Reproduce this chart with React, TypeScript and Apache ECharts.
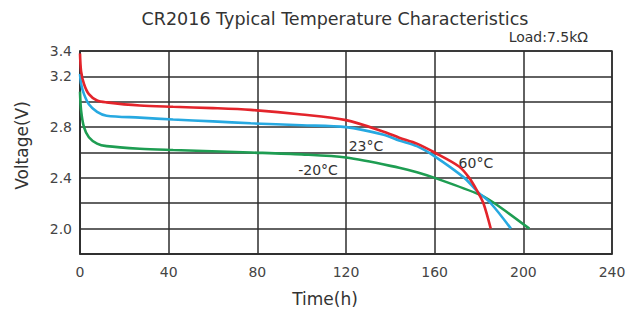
import React, { useEffect, useRef } from "react";
import * as echarts from "echarts";

const xTicks = [0, 40, 80, 120, 160, 200, 240];
const yLabelValues = [3.4, 3.2, 2.8, 2.4, 2.0];

const seriesNames = ["60°C", "23°C", "-20°C"];
const seriesColors = ["#e3242b", "#27a9e1", "#1e9d52"];

const red60: [number, number][] = [
  [0, 3.38], [0.5, 3.24], [1.8, 3.14], [4, 3.06], [7.7, 3.01], [12, 2.995],
  [27, 2.97], [42, 2.96], [60, 2.95], [77, 2.936], [100, 2.9], [120, 2.855],
  [137, 2.764], [144, 2.717], [152, 2.67], [160, 2.6], [171, 2.49],
  [175.6, 2.4], [179.4, 2.29], [182, 2.2], [185.3, 2.0],
];
const blue23: [number, number][] = [
  [0, 3.22], [0.5, 3.14], [1.8, 3.06], [4, 2.98], [7.7, 2.92], [12, 2.89],
  [27, 2.875], [42, 2.86], [60, 2.845], [77, 2.83], [100, 2.815], [120, 2.8],
  [137, 2.74], [144, 2.695], [152, 2.65], [160, 2.57], [173.4, 2.4],
  [179.4, 2.29], [185.3, 2.2], [194.4, 2.0],
];
const greenMinus20: [number, number][] = [
  [0, 3.08], [0.5, 2.93], [1.8, 2.8], [4, 2.72], [7.7, 2.67], [12, 2.65],
  [27, 2.63], [42, 2.62], [77, 2.6], [100, 2.585], [120, 2.56], [144, 2.48],
  [152, 2.445], [160, 2.4], [180, 2.27], [187, 2.2], [202.7, 2.0],
];
const seriesData = [red60, blue23, greenMinus20];
const labelCoords: [number, number][] = [
  [178.6, 2.52],
  [129, 2.65],
  [107.4, 2.465],
];

const FONT = "DejaVu Sans";
const GRID_COLOR = "#2e2e2e";

export default function App() {
  const ref = useRef<HTMLDivElement>(null);
  useEffect(() => {
    if (!ref.current) return;
    const chart = echarts.init(ref.current, undefined, { renderer: "svg" });
    chart.setOption({
      animation: false,
      backgroundColor: "#ffffff",
      textStyle: { fontFamily: FONT },
      graphic: [
        {
          type: "text",
          x: 335,
          y: 19,
          style: {
            text: "CR2016 Typical Temperature Characteristics",
            fontFamily: FONT,
            fontSize: 17.5,
            fill: "#333333",
            textAlign: "center",
            textVerticalAlign: "middle",
          },
        },
        {
          type: "text",
          x: 588,
          y: 37,
          style: {
            text: "Load:7.5kΩ",
            fontFamily: FONT,
            fontSize: 14,
            fill: "#333333",
            textAlign: "right",
            textVerticalAlign: "middle",
          },
        },
      ],
      grid: {
        left: 80,
        top: 51,
        width: 532,
        height: 207,
        show: true,
        borderColor: GRID_COLOR,
        borderWidth: 1.5,
      },
      xAxis: {
        type: "value",
        min: xTicks[0],
        max: xTicks[xTicks.length - 1],
        interval: 40,
        name: "Time(h)",
        nameLocation: "middle",
        nameGap: 36,
        nameTextStyle: { fontFamily: FONT, fontSize: 17, color: "#333333", padding: [0, 42, 0, 0] },
        axisLine: { show: true, lineStyle: { color: GRID_COLOR, width: 1.5 } },
        axisTick: { show: false },
        axisLabel: { fontFamily: FONT, fontSize: 14, color: "#444444", margin: 11 },
        splitLine: { show: true, lineStyle: { color: GRID_COLOR, width: 1.5 } },
      },
      yAxis: {
        type: "value",
        min: 1.8,
        max: 3.4,
        interval: 0.2,
        name: "Voltage(V)",
        nameLocation: "middle",
        nameGap: 50,
        nameRotate: 90,
        nameTextStyle: { fontFamily: FONT, fontSize: 17, color: "#333333", padding: [0, 0, 0, 14] },
        axisLine: { show: true, lineStyle: { color: GRID_COLOR, width: 1.5 } },
        axisTick: { show: false },
        axisLabel: {
          fontFamily: FONT,
          fontSize: 14,
          color: "#444444",
          margin: 8,
          formatter: (v: number) => {
            const r = Math.round(v * 10) / 10;
            return yLabelValues.some((x) => Math.abs(x - r) < 1e-6) ? r.toFixed(1) : "";
          },
        },
        splitLine: { show: true, lineStyle: { color: GRID_COLOR, width: 1.5 } },
      },
      series: seriesData.map((d, i) => ({
        name: seriesNames[i],
        type: "line",
        data: d,
        smooth: 0.3,
        showSymbol: false,
        symbol: "none",
        lineStyle: { color: seriesColors[i], width: 2.6 },
        z: 3 - i + 2,
        markPoint: {
          symbol: "circle",
          symbolSize: 0,
          silent: true,
          label: {
            show: true,
            position: "inside",
            formatter: seriesNames[i],
            fontFamily: FONT,
            fontSize: 14,
            color: "#333333",
          },
          data: [{ coord: labelCoords[i], value: seriesNames[i] }],
        },
      })),
    });
    return () => chart.dispose();
  }, []);
  return (
    <div
      ref={ref}
      style={{ position: "fixed", left: 0, top: 0, width: 638, height: 312 }}
    />
  );
}
